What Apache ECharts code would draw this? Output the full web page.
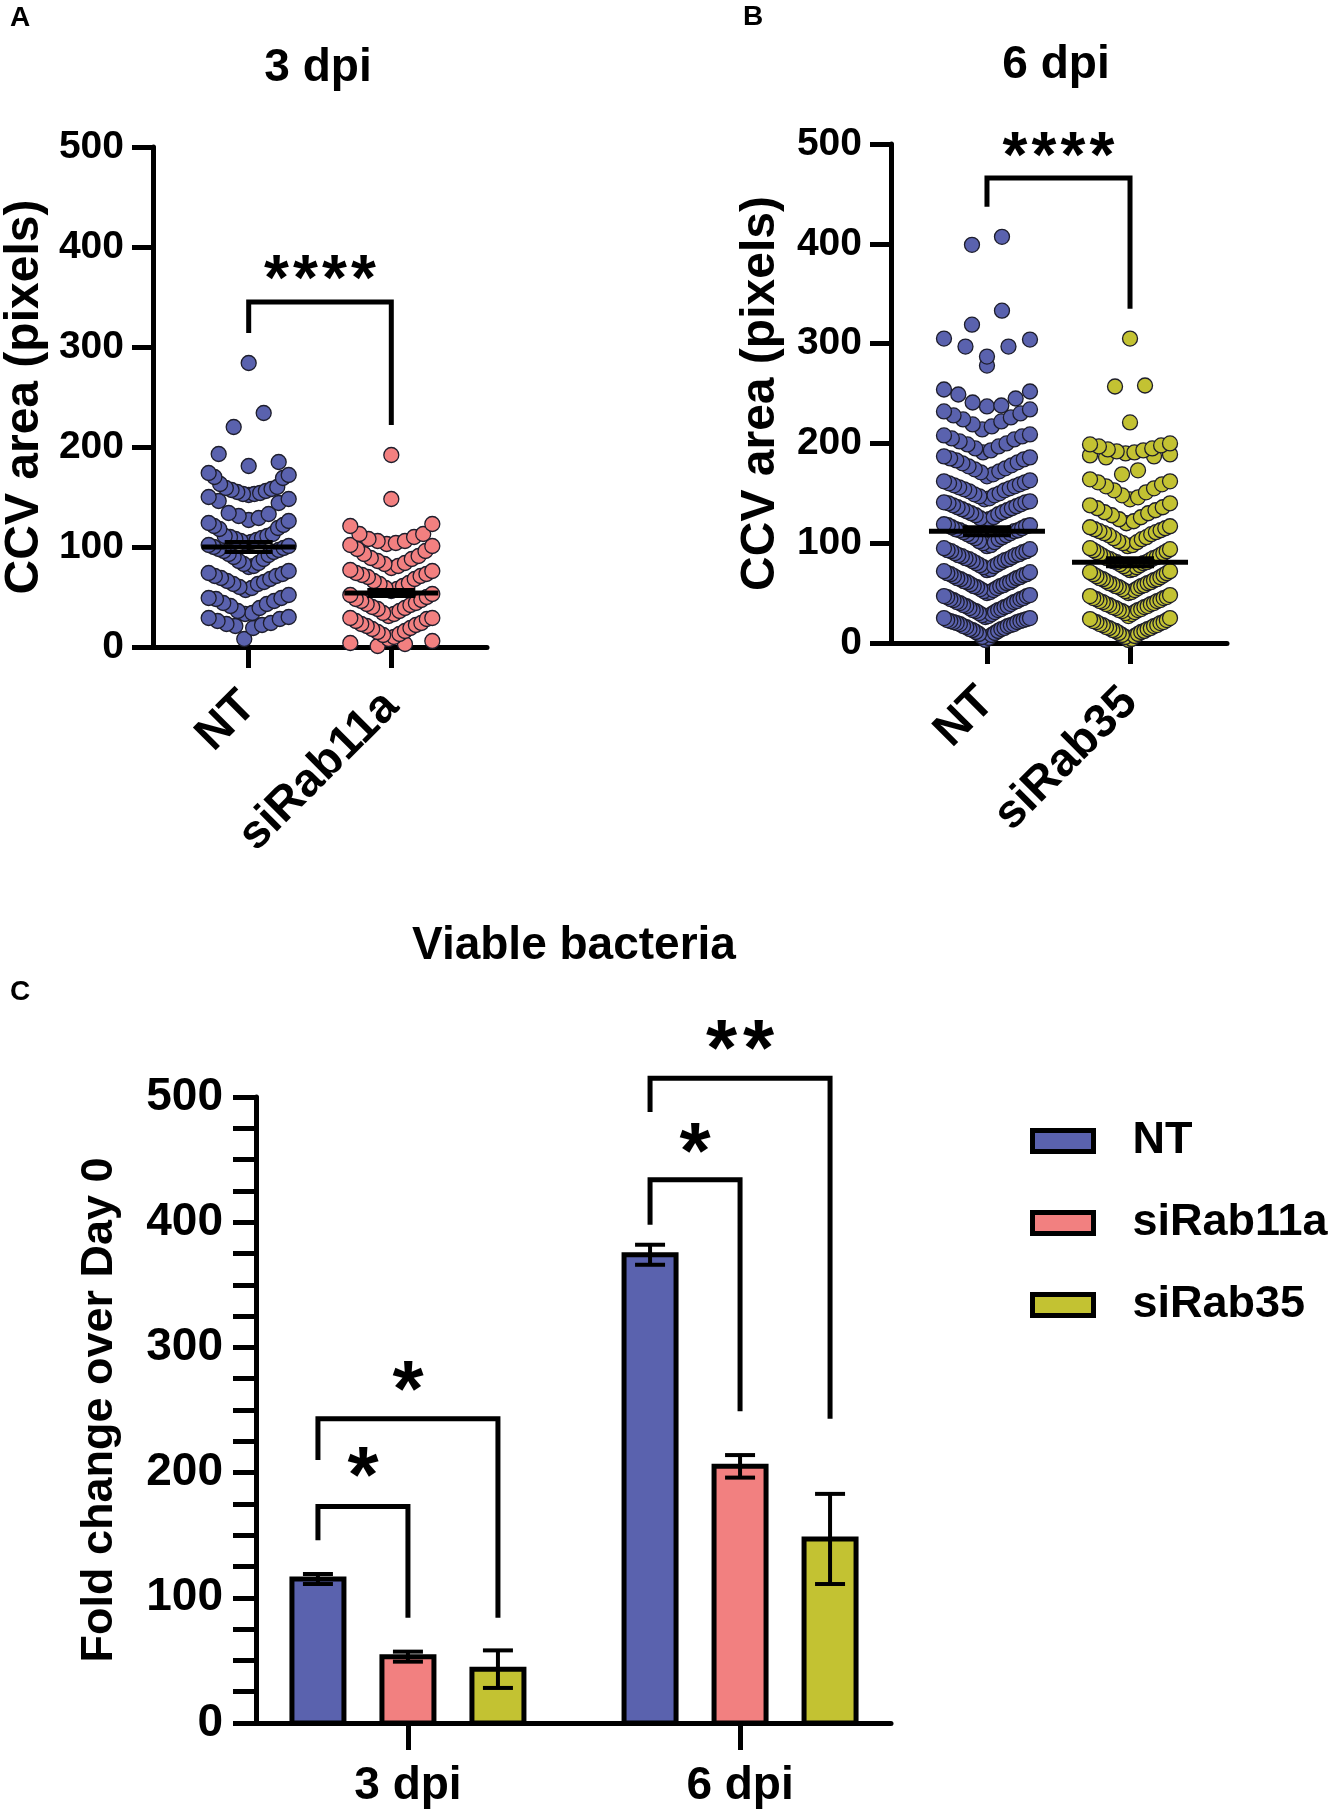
<!DOCTYPE html>
<html>
<head>
<meta charset="utf-8">
<script src="https://cdn.jsdelivr.net/npm/echarts@6/dist/echarts.min.js"></script>
<style>
  html, body { margin: 0; padding: 0; background: #fff; }
  #chart { width: 1330px; height: 1810px; }
</style>
</head>
<body>
<div id="chart"></div>
<script>
// ---- data ----
// Panel A: CCV area at 3 dpi
const groupsA = ['NT', 'siRab11a'];
const ntA = [
  8, 19, 21, 22, 23, 24, 26, 28, 29, 30,
  33, 34, 36, 39, 41, 43, 44, 46, 48, 49, 49, 52,
  57, 59, 60, 63, 63, 65, 66, 68, 69, 71, 71, 73, 74, 76,
  80, 81, 83, 84, 86, 88, 90, 92, 93, 95, 96, 97, 98, 99, 100, 101, 102,
  104, 105, 106, 107, 108, 109, 110, 111, 111, 113, 118, 119, 121, 122, 124, 126,
  127, 129, 131, 133, 134, 144, 146, 148, 150,
  152, 153, 153, 154, 155, 156, 157, 158, 159, 160, 163, 169, 170, 172, 174,
  181, 185, 193, 220, 234, 284
];
const rab11aA = [
  1, 3, 4, 6,
  8, 10, 12, 13, 15, 16, 18, 19, 21, 22, 23, 24, 26, 28, 29, 29,
  31, 33, 34, 36, 38, 39, 40, 42, 43, 44, 46, 47, 48, 50, 52, 53,
  56, 58, 59, 61, 63, 64, 66, 68, 70, 71, 72, 73, 74, 76, 77,
  79, 81, 83, 84, 86, 88, 89, 91, 93, 96, 98, 101, 102,
  103, 104, 106, 106, 108, 110, 113, 113, 121, 123,
  148, 192
];
const meanA = [100, 54];
const semA = [5, 3];
// bracket: [top, left leg end, right leg end], stars and their height
const bracketA = [345, 314, 222];
const starsA = ['****', 379];

// Panel B: CCV area at 6 dpi
const groupsB = ['NT', 'siRab35'];
const ntB = [
  3, 5, 6, 8, 9, 10, 11, 12, 13, 14, 14, 15, 16, 17, 17, 18, 19, 19, 20, 21, 21, 22, 22, 23, 23, 24, 25, 25,
  26, 27, 28, 29, 30, 31, 32, 33, 33, 34, 35, 36, 37, 37, 38, 39, 40, 41, 41, 42, 43, 44, 44, 45, 46, 47, 47, 48,
  50, 51, 52, 53, 54, 55, 56, 57, 57, 58, 59, 60, 61, 61, 62, 63, 64, 65, 65, 66, 67, 68, 69, 69, 70, 71, 72,
  73, 74, 76, 77, 78, 79, 80, 81, 82, 83, 84, 84, 85, 86, 87, 88, 88, 89, 90, 91, 92, 92, 93, 94, 95,
  97, 98, 100, 101, 102, 104, 105, 106, 107, 108, 109, 110, 111, 112, 113, 113, 114, 115, 116, 117, 118, 118, 119,
  122, 124, 125, 126, 128, 129, 130, 131, 132, 133, 134, 135, 136, 137, 138, 139, 140, 141, 141, 142,
  144, 145, 147, 148, 149, 150, 152, 153, 154, 155, 156, 157, 158, 159, 160, 161, 162, 163,
  167, 169, 171, 172, 174, 175, 177, 178, 180, 181, 183, 184, 185, 186, 187,
  191, 193, 195, 197, 199, 200, 202, 204, 205, 207, 208, 209,
  214, 217, 219, 222, 224, 226, 228, 230, 232, 234,
  237, 238, 241, 245, 249, 252, 254,
  278, 287, 297, 297, 304, 305, 319, 333, 399, 407
];
const rab35B = [
  3, 4, 6, 7, 8, 9, 10, 11, 12, 12, 13, 14, 15, 15, 16, 17, 18, 18, 19, 20, 21, 21, 22, 23, 24, 25,
  27, 29, 30, 31, 32, 33, 33, 34, 35, 36, 36, 37, 38, 39, 39, 40, 41, 42, 42, 43, 44, 45, 45, 46, 47, 48,
  50, 51, 52, 53, 54, 55, 56, 57, 57, 58, 59, 60, 60, 61, 62, 63, 64, 64, 65, 66, 67, 68, 69, 70, 71, 72,
  73, 74, 75, 76, 77, 78, 79, 80, 81, 81, 82, 83, 84, 85, 85, 86, 87, 88, 89, 90, 91, 92, 93, 94, 95,
  97, 98, 100, 101, 102, 104, 105, 106, 108, 109, 110, 111, 112, 113, 114, 115, 116, 117,
  120, 122, 124, 126, 128, 130, 131, 133, 135, 136, 138, 140,
  144, 146, 148, 151, 153, 155, 157, 159, 161, 162, 164,
  169, 173, 186, 187, 188, 189,
  190, 191, 192, 193, 194, 195, 197, 198, 199, 200,
  221, 257, 258, 305
];
const meanB = [112, 81];
const semB = [4, 4];
const bracketB = [466, 437, 335];
const starsB = ['****', 499];

// Panel C: viable bacteria, fold change over day 0 (mean, error)
const dpiCats = ['3 dpi', '6 dpi'];
const fcNames = ['NT', 'siRab11a', 'siRab35'];
const fcNT = [115, 374];
const fcNTErr = [4, 8];
const fcRab11a = [53, 205];
const fcRab11aErr = [4, 9];
const fcRab35 = [43, 147];
const fcRab35Err = [15, 36];
// [group, second bar, top, left leg end, right leg end, stars, star height]
const fcBrackets = [
  [0, 1, 173, 146, 84, '*', 208],
  [0, 2, 243, 210, 84, '*', 277],
  [1, 1, 434, 398, 249, '*', 467],
  [1, 2, 515, 488, 243, '**', 549]
];

// ---- styling ----
const FONT = '"Liberation Sans", Arial, sans-serif';
const BLUE = '#5a62ae';
const PINK = '#f28080';
const OLIVE = '#c3c232';
const DOT_EDGE = '#1d1d2b';
const BAR_PITCH = 90;
const BAR_HALF = 26;

const chart = echarts.init(document.getElementById('chart'));

// scatter-dot layout: bin the values, spread each bin sideways (lowest in the middle)
function swarm(values, group, origin, binW, stepMax, halfMax) {
  const bins = {};
  values.forEach(v => {
    const k = Math.floor((v - origin) / binW);
    (bins[k] = bins[k] || []).push(v);
  });
  // lone neighbouring points sit side by side in one row
  let rows = Object.keys(bins).map(Number).sort((a, b) => a - b).map(k => bins[k].slice().sort((a, b) => a - b));
  const merged = [];
  rows.forEach(r => {
    const prev = merged[merged.length - 1];
    if (prev && prev.length === 1 && r.length === 1 && r[0] - prev[0] < binW) prev.push(r[0]);
    else merged.push(r);
  });
  const out = [];
  merged.forEach(row => {
    const n = row.length;
    const maxIdx = (n - 1) / 2;
    const step = maxIdx > 0 ? Math.min(stepMax, halfMax / maxIdx) : 0;
    row.forEach((v, i) => {
      let pos;
      if (n % 2) pos = i === 0 ? 0 : (i % 2 ? 1 : -1) * Math.ceil(i / 2);
      else pos = (i % 2 ? 1 : -1) * (Math.floor(i / 2) + 0.5);
      out.push([group, v, pos * step]);
    });
  });
  return out;
}

function dotSeries(name, axis, data, color) {
  return {
    type: 'custom', name, xAxisIndex: axis, yAxisIndex: axis, data,
    encode: { x: 0, y: 1 }, z: 2, silent: true,
    renderItem(params, api) {
      const p = api.coord([api.value(0), api.value(1)]);
      return {
        type: 'circle',
        shape: { cx: p[0] + api.value(2), cy: p[1], r: 7.5 },
        style: { fill: color, stroke: DOT_EDGE, lineWidth: 1.3 }
      };
    }
  };
}

function meanSeries(axis, means, sems, halfLine) {
  return {
    type: 'custom', xAxisIndex: axis, yAxisIndex: axis, z: 5, silent: true,
    data: means.map((m, i) => [i, m, sems[i]]),
    encode: { x: 0, y: 1 },
    renderItem(params, api) {
      const g = api.value(0), m = api.value(1), s = api.value(2);
      const p = api.coord([g, m]);
      const lo = api.coord([g, m - s]);
      const hi = api.coord([g, m + s]);
      const st = { stroke: '#000', lineWidth: 4 };
      return {
        type: 'group', children: [
          { type: 'line', shape: { x1: p[0] - halfLine, y1: p[1], x2: p[0] + halfLine, y2: p[1] }, style: { stroke: '#000', lineWidth: 5 } },
          { type: 'line', shape: { x1: p[0], y1: lo[1], x2: p[0], y2: hi[1] }, style: st },
          { type: 'line', shape: { x1: p[0] - 24, y1: lo[1], x2: p[0] + 24, y2: lo[1] }, style: st },
          { type: 'line', shape: { x1: p[0] - 24, y1: hi[1], x2: p[0] + 24, y2: hi[1] }, style: st }
        ]
      };
    }
  };
}

function starTexts(cx, cy, label, size, pitch) {
  const n = label.length;
  const out = [];
  for (let i = 0; i < n; i++) {
    out.push({
      type: 'text',
      x: cx + (i - (n - 1) / 2) * pitch,
      y: cy + size * 0.22,
      style: { text: '*', font: `bold ${size}px ${FONT}`, fill: '#000', align: 'center', verticalAlign: 'middle' }
    });
  }
  return out;
}

function bracketSeries(axis, br, stars) {
  return {
    type: 'custom', xAxisIndex: axis, yAxisIndex: axis, z: 6, silent: true, clip: false,
    data: [[0, br[0]]],
    encode: { x: 0, y: 1 },
    renderItem(params, api) {
      const l0 = api.coord([0, br[1]]), lt = api.coord([0, br[0]]);
      const rt = api.coord([1, br[0]]), r0 = api.coord([1, br[2]]);
      const sp = api.coord([0.5, stars[1]]);
      return {
        type: 'group', children: [
          { type: 'polyline', shape: { points: [l0, lt, rt, r0] }, style: { stroke: '#000', lineWidth: 5, fill: null } }
        ].concat(starTexts(sp[0], sp[1], stars[0], 64, 29))
      };
    }
  };
}

function barSeries(name, idx, vals, errs, color) {
  return {
    type: 'custom', name, xAxisIndex: 2, yAxisIndex: 2, z: 3, silent: true,
    itemStyle: { color, borderColor: '#000', borderWidth: 5 },
    data: vals.map((v, i) => [i, v, errs[i]]),
    encode: { x: 0, y: 1 },
    renderItem(params, api) {
      const g = api.value(0), v = api.value(1), e = api.value(2);
      const top = api.coord([g, v]);
      const base = api.coord([g, 0]);
      const lo = api.coord([g, v - e]);
      const hi = api.coord([g, v + e]);
      const x = top[0] + (idx - 1) * BAR_PITCH;
      const st = { stroke: '#000', lineWidth: 4 };
      return {
        type: 'group', children: [
          { type: 'rect', shape: { x: x - BAR_HALF, y: top[1], width: BAR_HALF * 2, height: base[1] - top[1] },
            style: { fill: color, stroke: '#000', lineWidth: 5 } },
          { type: 'line', shape: { x1: x, y1: lo[1], x2: x, y2: hi[1] }, style: st },
          { type: 'line', shape: { x1: x - 15, y1: lo[1], x2: x + 15, y2: lo[1] }, style: st },
          { type: 'line', shape: { x1: x - 15, y1: hi[1], x2: x + 15, y2: hi[1] }, style: st }
        ]
      };
    }
  };
}

const fcBracketSeries = {
  type: 'custom', xAxisIndex: 2, yAxisIndex: 2, z: 6, silent: true, clip: false,
  data: fcBrackets.map(b => [b[0], b[2], b[1], b[3], b[4], b[6]]),
  encode: { x: 0, y: 1 },
  renderItem(params, api) {
    const g = api.value(0), top = api.value(1), to = api.value(2);
    const lb = api.value(3), rb = api.value(4), sy = api.value(5);
    const c = api.coord([g, top]);
    const xl = c[0] - BAR_PITCH;
    const xr = c[0] + (to - 1) * BAR_PITCH;
    const yl = api.coord([g, lb])[1];
    const yr = api.coord([g, rb])[1];
    const ys = api.coord([g, sy])[1];
    const label = fcBrackets[params.dataIndex][5];
    return {
      type: 'group', children: [
        { type: 'polyline', shape: { points: [[xl, yl], [xl, c[1]], [xr, c[1]], [xr, yr]] },
          style: { stroke: '#000', lineWidth: 5, fill: null } }
      ].concat(starTexts((xl + xr) / 2, ys, label, 80, 37))
    };
  }
};

const axisLineStyle = { color: '#000', width: 5 };
const labelFont = { fontWeight: 'bold', fontFamily: FONT, color: '#000' };

function yAxis(grid, labelSize, labelMargin, name, nameSize, nameGap, tickLen, minor) {
  return {
    type: 'value', gridIndex: grid, min: 0, max: 500, interval: 100,
    axisLine: { show: true, onZero: false, lineStyle: axisLineStyle },
    axisTick: { show: true, length: tickLen, lineStyle: axisLineStyle },
    minorTick: { show: minor, splitNumber: 4, length: tickLen, lineStyle: axisLineStyle },
    splitLine: { show: false },
    minorSplitLine: { show: false },
    axisLabel: Object.assign({ fontSize: labelSize, margin: labelMargin }, labelFont),
    name, nameLocation: 'middle', nameGap,
    nameTextStyle: Object.assign({ fontSize: nameSize }, labelFont)
  };
}

function xAxis(grid, min, max, labels, labelSize, rotate, margin, tickLen) {
  const at = labels.map((_, i) => i);
  return {
    type: 'value', gridIndex: grid, min, max,
    axisLine: { show: true, onZero: false, lineStyle: axisLineStyle },
    axisTick: { show: true, customValues: at, length: tickLen, lineStyle: axisLineStyle },
    axisLabel: Object.assign({
      customValues: at, rotate, margin, fontSize: labelSize,
      formatter: v => labels[Math.round(v)] || ''
    }, labelFont),
    splitLine: { show: false }
  };
}

function headText(x, y, text, size) {
  return {
    type: 'text', x, y, silent: true,
    style: { text, font: `bold ${size}px ${FONT}`, fill: '#000', align: 'center', verticalAlign: 'middle' }
  };
}

chart.setOption({
  animation: false,
  backgroundColor: '#fff',
  grid: [
    { left: 152, top: 147, width: 335, height: 500 },
    { left: 891, top: 144, width: 336, height: 499 },
    { left: 256, top: 1097, width: 635, height: 626 }
  ],
  xAxis: [
    xAxis(0, -0.671, 1.671, groupsA, 47, 45, 52, 21),
    xAxis(1, -0.671, 1.678, groupsB, 47, 45, 52, 21),
    xAxis(2, -0.4575, 1.4545, dpiCats, 46, 0, 40, 27)
  ],
  yAxis: [
    yAxis(0, 39, 29, 'CCV area (pixels)', 48, 104, 21, false),
    yAxis(1, 39, 29, 'CCV area (pixels)', 48, 106, 21, false),
    yAxis(2, 46, 33, 'Fold change over Day 0', 45, 134, 23, true)
  ],
  legend: {
    data: fcNames, orient: 'vertical', left: 1025, top: 1111,
    icon: 'rect', itemWidth: 61, itemHeight: 21, itemGap: 32,
    selectedMode: false,
    itemStyle: { borderColor: '#000', borderWidth: 5 },
    textStyle: Object.assign({ fontSize: 45, lineHeight: 50, padding: [0, 0, 0, 34] }, labelFont)
  },
  graphic: [
    headText(20, 18, 'A', 28),
    headText(753, 17, 'B', 28),
    headText(20, 992, 'C', 28),
    headText(318, 68, '3 dpi', 46),
    headText(1056, 65, '6 dpi', 46),
    headText(574, 946, 'Viable bacteria', 46)
  ],
  series: [
    dotSeries('dots NT 3dpi', 0, swarm(ntA, 0, 7, 24, 30, 40), BLUE),
    dotSeries('dots siRab11a 3dpi', 0, swarm(rab11aA, 1, 7, 24, 30, 41), PINK),
    meanSeries(0, meanA, semA, 47),
    bracketSeries(0, bracketA, starsA),
    dotSeries('dots NT 6dpi', 1, swarm(ntB, 0, 2, 23.5, 30, 43), BLUE),
    dotSeries('dots siRab35 6dpi', 1, swarm(rab35B, 1, 2, 23.5, 30, 40), OLIVE),
    meanSeries(1, meanB, semB, 58),
    bracketSeries(1, bracketB, starsB),
    barSeries('NT', 0, fcNT, fcNTErr, BLUE),
    barSeries('siRab11a', 1, fcRab11a, fcRab11aErr, PINK),
    barSeries('siRab35', 2, fcRab35, fcRab35Err, OLIVE),
    fcBracketSeries
  ]
});
</script>
</body>
</html>
